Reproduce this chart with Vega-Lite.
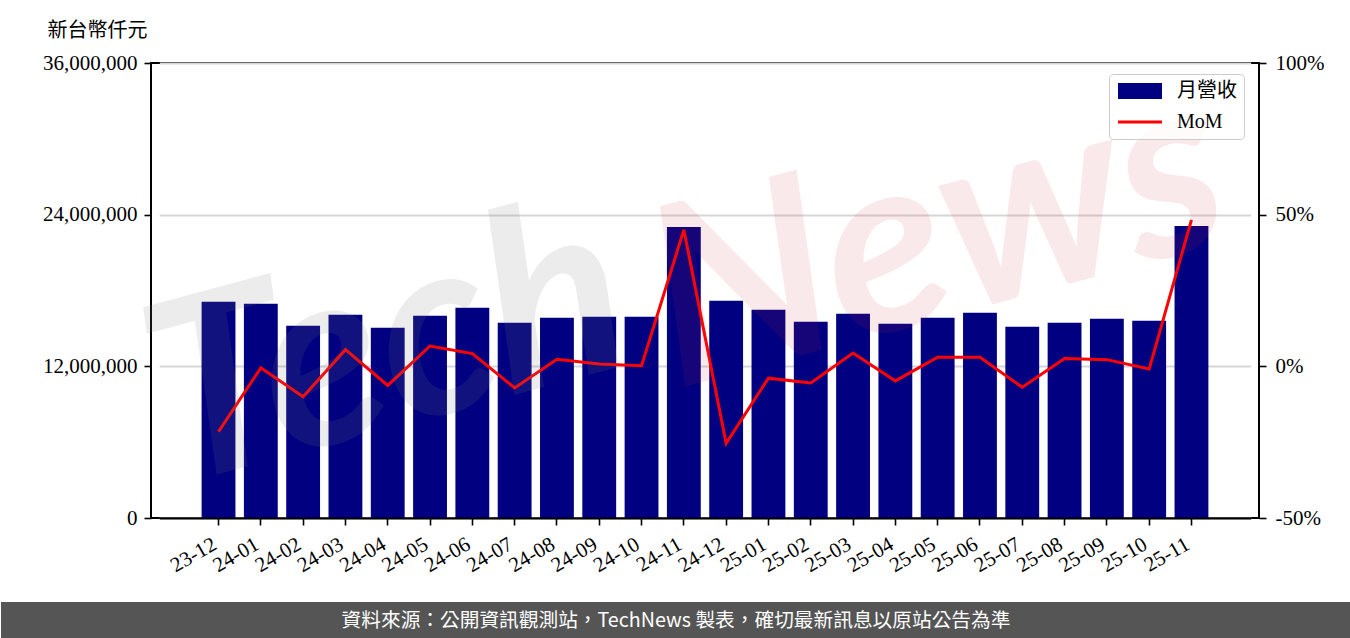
{
  "$schema": "https://vega.github.io/schema/vega-lite/v6.json",
  "background": "white",
  "padding": 0,
  "spacing": 0,
  "config": {
    "view": {"stroke": null},
    "font": "Liberation Serif",
    "axis": {
      "labelFont": "Liberation Serif, Noto Sans CJK TC",
      "labelFontSize": 21,
      "labelColor": "black",
      "tickColor": "black",
      "tickWidth": 1.6,
      "tickSize": 7,
      "domainColor": "black",
      "domainWidth": 2
    }
  },
  "vconcat": [
    {
      "spacing": 0,
      "bounds": "flush",
      "hconcat": [
        {
          "width": 150,
          "height": 455,
          "data": {"values": [{}]},
          "mark": {"type": "point", "opacity": 0},
          "encoding": {}
        },
        {
          "width": 1108,
          "height": 455,
          "view": {"stroke": "black", "strokeWidth": 2},
          "data": {
            "values": [
              {"month": "23-12", "revenue": 17110000, "mom": -0.215},
              {"month": "24-01", "revenue": 16950000, "mom": -0.005},
              {"month": "24-02", "revenue": 15210000, "mom": -0.100},
              {"month": "24-03", "revenue": 16080000, "mom": 0.055},
              {"month": "24-04", "revenue": 15050000, "mom": -0.063},
              {"month": "24-05", "revenue": 16000000, "mom": 0.067},
              {"month": "24-06", "revenue": 16630000, "mom": 0.042},
              {"month": "24-07", "revenue": 15450000, "mom": -0.071},
              {"month": "24-08", "revenue": 15840000, "mom": 0.023},
              {"month": "24-09", "revenue": 15920000, "mom": 0.008},
              {"month": "24-10", "revenue": 15920000, "mom": 0.002},
              {"month": "24-11", "revenue": 23030000, "mom": 0.450},
              {"month": "24-12", "revenue": 17190000, "mom": -0.254},
              {"month": "25-01", "revenue": 16480000, "mom": -0.039},
              {"month": "25-02", "revenue": 15530000, "mom": -0.055},
              {"month": "25-03", "revenue": 16160000, "mom": 0.044},
              {"month": "25-04", "revenue": 15370000, "mom": -0.048},
              {"month": "25-05", "revenue": 15840000, "mom": 0.030},
              {"month": "25-06", "revenue": 16240000, "mom": 0.030},
              {"month": "25-07", "revenue": 15130000, "mom": -0.069},
              {"month": "25-08", "revenue": 15450000, "mom": 0.026},
              {"month": "25-09", "revenue": 15770000, "mom": 0.022},
              {"month": "25-10", "revenue": 15610000, "mom": -0.009},
              {"month": "25-11", "revenue": 23110000, "mom": 0.483}
            ]
          },
          "encoding": {
            "x": {
              "field": "month",
              "type": "ordinal",
              "sort": null,
              "scale": {"paddingInner": 0.2, "paddingOuter": 1, "range": [8.3, 1099.7]},
              "axis": {
                "title": ".",
                "titleColor": "rgba(0,0,0,0)",
                "titleFontSize": 10,
                "titleX": -150,
                "titleY": 83,
                "titleAlign": "left",
                "titleBaseline": "bottom",
                "labelAngle": -30,
                "labelAlign": "right",
                "labelBaseline": "top",
                "labelPadding": 8,
                "labelOffset": -9,
                "labelOverlap": false,
                "labelBound": false,
                "labelLimit": 0,
                "grid": false,
                "domain": true,
                "zindex": 1
              }
            }
          },
          "layer": [
            {
              "mark": {"type": "bar"},
              "encoding": {
                "y": {
                  "field": "revenue",
                  "type": "quantitative",
                  "scale": {"domain": [0, 36000000], "nice": false},
                  "axis": {
                    "orient": "left",
                    "values": [0, 12000000, 24000000, 36000000],
                    "format": ",d",
                    "labelFontSize": 21,
                    "title": "新台幣仟元",
                    "titleFont": "Noto Sans CJK TC",
                    "titleFontSize": 20,
                    "titleFontWeight": "normal",
                    "titleColor": "black",
                    "titleAngle": 0,
                    "titleAlign": "right",
                    "titleBaseline": "middle",
                    "titleX": -4,
                    "titleY": -33,
                    "grid": true,
                    "gridColor": "#d6d6d6",
                    "gridWidth": 2,
                    "domain": false,
                    "labelPadding": 7
                  }
                },
                "color": {
                  "datum": "月營收",
                  "type": "nominal",
                  "scale": {"domain": ["月營收", "MoM"], "range": ["#000080", "#ff0000"]},
                  "legend": {
                    "title": null,
                    "orient": "none",
                    "legendX": 1108,
                    "legendY": 11,
                    "padding": 7,
                    "fillColor": "rgba(255,255,255,0.8)",
                    "strokeColor": "#cccccc",
                    "cornerRadius": 4,
                    "labelFont": "Liberation Serif, Noto Sans CJK TC",
                    "labelFontSize": 20,
                    "labelColor": "black",
                    "labelLimit": 0,
                    "symbolSize": 256,
                    "symbolStrokeWidth": 0,
                    "labelOffset": 41,
                    "rowPadding": 11,
                    "encode": {
                      "symbols": {
                        "update": {
                          "shape": {"signal": "datum.value === 'MoM' ? 'M-1,0H4.5' : 'M-1,-1H4.5V1H-1Z'"},
                          "fill": {"signal": "datum.value === 'MoM' ? 'transparent' : '#000080'"},
                          "stroke": {"signal": "datum.value === 'MoM' ? '#ff0000' : 'transparent'"},
                          "strokeWidth": {"signal": "datum.value === 'MoM' ? 3 : 0"},
                          "opacity": {"value": 1},
                          "size": {"value": 256}
                        }
                      }
                    }
                  }
                }
              }
            },
            {
              "mark": {"type": "line", "strokeWidth": 3},
              "encoding": {
                "y": {
                  "field": "mom",
                  "type": "quantitative",
                  "scale": {"domain": [-0.5, 1], "nice": false, "zero": false},
                  "axis": {
                    "orient": "right",
                    "values": [-0.5, 0, 0.5, 1],
                    "labelExpr": "(datum.value < 0 ? '-' : '') + format(abs(datum.value) * 100, 'd') + '%'",
                    "labelFontSize": 21,
                    "title": ".",
                    "titleColor": "rgba(0,0,0,0)",
                    "titleFontSize": 10,
                    "titleAngle": 0,
                    "titleX": 0,
                    "titleY": -62,
                    "titleAlign": "left",
                    "titleBaseline": "top",
                    "grid": false,
                    "domain": false,
                    "labelPadding": 9
                  }
                },
                "color": {"datum": "MoM", "type": "nominal"}
              }
            },
            {
              "data": {"values": [{"word": "Tech"}]},
              "mark": {"type": "text", "font": "Lato", "fontStyle": "italic", "fontWeight": "bold", "fontSize": 250, "angle": -15, "color": "#7f7f7f", "opacity": 0.14},
              "encoding": {
                "text": {"field": "word"},
                "x": {"datum": "24-04"},
                "y": {"datum": 13200000, "scale": {"domain": [0, 36000000], "nice": false}, "axis": null}
              }
            },
            {
              "data": {"values": [{"word": "News"}]},
              "mark": {"type": "text", "font": "Lato", "fontStyle": "italic", "fontWeight": "bold", "fontSize": 250, "angle": -15, "color": "#d9303a", "opacity": 0.1},
              "encoding": {
                "text": {"field": "word"},
                "x": {"datum": "25-05"},
                "y": {"datum": 21900000, "scale": {"domain": [0, 36000000], "nice": false}, "axis": null}
              }
            }
          ],
          "resolve": {"scale": {"y": "independent"}}
        }
      ]
    },
    {
      "width": 1350,
      "height": 38,
      "view": {"fill": "#555555", "stroke": null},
      "data": {"values": [{"note": "資料來源：公開資訊觀測站，TechNews 製表，確切最新訊息以原站公告為準"}]},
      "mark": {"type": "text", "color": "white", "font": "Noto Sans CJK TC", "fontSize": 19.7},
      "encoding": {"text": {"field": "note"}}
    }
  ]
}
